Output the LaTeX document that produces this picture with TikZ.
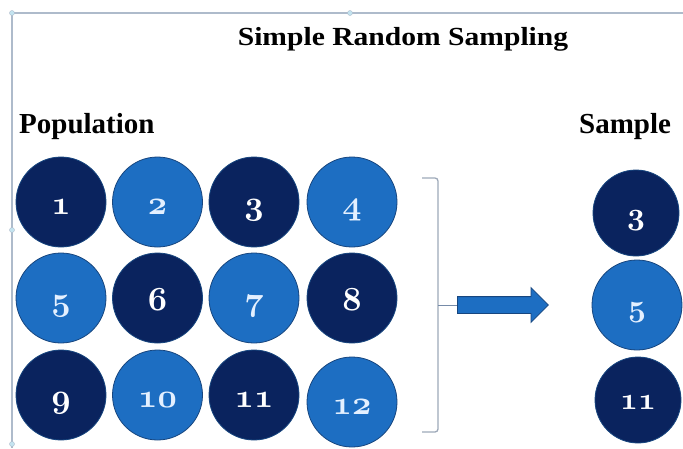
\documentclass[tikz,border=0pt]{standalone}
\usepackage{fontspec}
\setmainfont{Liberation Serif}
\usetikzlibrary{shapes.arrows}
\definecolor{navy}{HTML}{0A235E}
\definecolor{lblue}{HTML}{1D6EC2}
\definecolor{rim}{HTML}{17467F}
\definecolor{frame}{HTML}{AEBBCB}
\definecolor{brk}{HTML}{9EA9B9}
\definecolor{handle}{HTML}{C4E4F0}
\definecolor{pale}{HTML}{E4F0FF}
\newcommand\digs[2]{\scalebox{#1}{\fontsize{24.88}{26}\usefont{OML}{cmm}{b}{it}#2}}
\tikzset{
  ball/.style={circle, draw=rim, line width=0.8pt, inner sep=0pt},
  darkball/.style={ball, fill=navy, text=white},
  lightball/.style={ball, fill=lblue, text=pale},
  lbl/.style={font=\fontsize{29}{30}\selectfont\bfseries, anchor=base west, inner sep=0pt},
  hdl/.style={circle, draw=frame, fill=handle, line width=0.4pt, inner sep=0pt, minimum size=5pt},
  num/.style={anchor=base, inner sep=0pt},
}
\begin{document}
\begin{tikzpicture}[x=1pt,y=-1pt]
\useasboundingbox (0,0) rectangle (683,448);
\fill[white] (0,0) rectangle (683,448);
% frame
\draw[frame, line width=1.6pt] (10,13) -- (683,13);
\draw[frame, line width=1.6pt] (12,13) -- (12,448);
\node[hdl] (h1) at (12,13) {};
\node[hdl] (h2) at (350,13) {};
\node[hdl] (h3) at (12,230) {};
\node[hdl] (h4) at (12,444) {};
% titles
\node[lbl, anchor=base] (title) at (403,45) {\scalebox{1.02}[0.9]{Simple Random Sampling}};
\node[lbl] (pop) at (19,133) {Population};
\node[lbl] (samp) at (579,133) {Sample};
% population circles
\foreach \n/\x/\y/\s/\c in {1/61/202/darkball/white, 2/157.5/202/lightball/pale, 3/254/202/darkball/white, 4/352/202/lightball/pale,
                          5/61/298/lightball/pale, 6/157.5/298/darkball/white, 7/254/298/lightball/pale, 8/352/298/darkball/white,
                          9/61/395/darkball/white, 10/157.5/395/lightball/pale, 11/254/395/darkball/white, 12/352/402/lightball/pale}{
  \node[\s, minimum size=90pt] (p\n) at (\x,\y) {};
  \node[num, text=\c] (t\n) at (\x,\y+12) {\digs{1.35}{\n}};
}
% sample circles
\node[darkball, minimum size=86pt] (s3) at (636,213) {};
\node[num, text=white] (st3) at (636,224) {\digs{1.25}{3}};
\node[lightball, minimum size=90pt] (s5) at (637,305) {};
\node[num, text=pale] (st5) at (637,316) {\digs{1.25}{5}};
\node[darkball, minimum size=86pt] (s11) at (638,400) {};
\node[num, text=white] (st11) at (638,409) {\digs{1.25}{11}};
% bracket
\coordinate (bm) at (438,305);
\draw[brk, line width=1.3pt, rounded corners=3pt] (422,178) -- (438,178) -- (438,432) -- (422,432);
% arrow
\node[single arrow, draw=rim, fill=lblue, line width=0.8pt, minimum height=91pt,
      inner xsep=0pt, inner ysep=8pt, single arrow head extend=9pt, single arrow head indent=0pt,
      anchor=tail] (arr) at (457,305) {};
\draw[brk!70!rim, line width=0.8pt] (bm) -- (arr.tail);
\end{tikzpicture}
\end{document}
